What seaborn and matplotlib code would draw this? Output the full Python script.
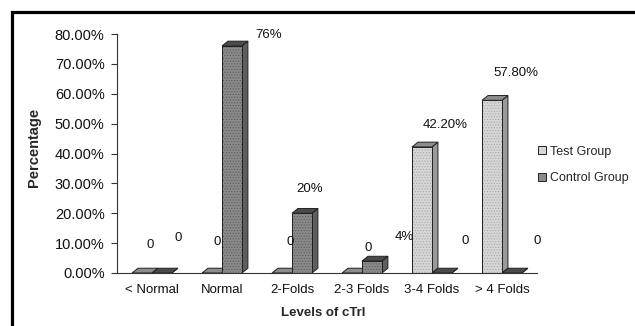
import numpy as np
import pandas as pd
import matplotlib
matplotlib.use("Agg")
import matplotlib.pyplot as plt
from matplotlib.patches import Polygon, Patch, Rectangle
import seaborn as sns

# ---- data ----
categories = ["< Normal", "Normal", "2-Folds", "2-3 Folds", "3-4 Folds", "> 4 Folds"]
test_values = [0, 0, 0, 0, 42.2, 57.8]
control_values = [0, 76, 20, 4, 0, 0]
test_labels = ["0", "0", "0", "0", "42.20%", "57.80%"]
control_labels = ["0", "76%", "20%", "4%", "0", "0"]
groups = ["Test Group", "Control Group"]
yticks = [0, 10, 20, 30, 40, 50, 60, 70, 80]

# ---- style ----
sns.set_style("white")
plt.rcParams["font.family"] = ["Liberation Sans", "DejaVu Sans"]
plt.rcParams["hatch.linewidth"] = 0.5

df = pd.DataFrame({
    "level": categories * 2,
    "pct": test_values + control_values,
    "group": [groups[0]] * len(categories) + [groups[1]] * len(categories),
})

fig = plt.figure(figsize=(6.35, 3.26), dpi=100)
ax = fig.add_axes([117 / 635, 1 - 273 / 326, 420 / 635, 239 / 326])

face = {groups[0]: "#d6d6d6", groups[1]: "#8a8a8a"}
sns.barplot(data=df, x="level", y="pct", hue="group", palette=face,
            width=0.57, gap=0, edgecolor="#222222", linewidth=0.7,
            legend=False, ax=ax, zorder=2)

hatches = {groups[0]: "......", groups[1]: "......"}
hatch_col = {groups[0]: "#a8a8a8", groups[1]: "#5a5a5a"}
side_col = {groups[0]: "#9a9a9a", groups[1]: "#5e5e5e"}
top_col = {groups[0]: "#8c8c8c", groups[1]: "#4a4a4a"}

dx, dy = 0.085, 1.6
bars = list(ax.patches)
n = len(categories)
for k, p in enumerate(bars):
    g = groups[0] if k < n else groups[1]
    x0, w, h = p.get_x(), p.get_width(), p.get_height()
    zo = 2 + (0 if k < n else 0.5)
    p.set_zorder(zo + 0.1)
    ax.add_patch(Rectangle((x0, 0), w, h, fill=False, hatch=hatches[g],
                           edgecolor=hatch_col[g], linewidth=0, zorder=zo + 0.15))
    side = Polygon([(x0 + w, 0), (x0 + w + dx, dy), (x0 + w + dx, h + dy), (x0 + w, h)],
                   closed=True, facecolor=side_col[g], edgecolor="#222222",
                   linewidth=0.7, zorder=zo)
    top = Polygon([(x0, h), (x0 + dx, h + dy), (x0 + w + dx, h + dy), (x0 + w, h)],
                  closed=True, facecolor=top_col[g], edgecolor="#222222",
                  linewidth=0.7, zorder=zo + 0.3)
    ax.add_patch(side)
    ax.add_patch(top)
    ax.add_patch(Rectangle((x0, 0), w, h, fill=False, edgecolor="#222222",
                           linewidth=0.7, zorder=zo + 0.2))

# value labels
test_lab_dx = [0.11, 0.07, 0.11, 0.23, 0.33, 0.34]
test_lab_dy = [9.4, 10.4, 10.4, 8.4, 7.3, 9.1]
ctrl_lab_dx = [0.23, 0.53, 0.11, 0.46, 0.33, 0.36]
ctrl_lab_dy = [11.7, 3.6, 8.1, 8.0, 10.7, 10.7]
for i in range(n):
    pt = bars[i]
    pc = bars[n + i]
    ax.text(pt.get_x() + pt.get_width() / 2 + test_lab_dx[i], pt.get_height() + test_lab_dy[i],
            test_labels[i], ha="center", va="center", fontsize=9.5, color="#111111")
    ax.text(pc.get_x() + pc.get_width() / 2 + ctrl_lab_dx[i], pc.get_height() + ctrl_lab_dy[i],
            control_labels[i], ha="center", va="center", fontsize=9.5, color="#111111")

ax.set_xlim(-0.5, n - 0.5)
ax.set_ylim(0, 80)
ax.set_yticks(yticks)
ax.set_yticklabels([f"{v:.2f}%" for v in yticks], fontsize=10.5, color="#111111")
ax.set_xticks(range(n))
ax.set_xticklabels(categories, fontsize=9.5, color="#111111")
ax.set_xticks(np.arange(-0.5, n, 1.0), minor=True)
ax.tick_params(axis="x", which="major", length=0, pad=8)
ax.tick_params(axis="x", which="minor", length=4, width=0.8, color="#333333", direction="out")
ax.tick_params(axis="y", length=4, width=0.8, color="#333333", direction="out", left=True, pad=5)
for s in ["top", "right"]:
    ax.spines[s].set_visible(False)
for s in ["left", "bottom"]:
    ax.spines[s].set_color("#333333")
    ax.spines[s].set_linewidth(0.8)

ax.set_xlabel("Levels of cTrl", fontsize=9.5, fontweight="bold")
ax.set_ylabel("Percentage", fontsize=10.5, fontweight="bold")
ax.xaxis.set_label_coords(0.49, -0.167)
ax.yaxis.set_label_coords(-0.197, 0.527)
ax.xaxis.label.set_va("center")
ax.yaxis.label.set_va("center")

handles = [Patch(facecolor=face[g], edgecolor="#222222", linewidth=0.7) for g in groups]
fig.legend(handles, groups, loc="center left", bbox_to_anchor=(527 / 635, 1 - 165 / 326),
           frameon=False, fontsize=9, handlelength=0.6, handleheight=0.6,
           handletextpad=0.3, labelspacing=1.2)

# outer border
fig.add_artist(Rectangle((12 / 635, -0.2), 1.2, 1.2 - 12 / 326, transform=fig.transFigure,
                         fill=False, edgecolor="black", linewidth=2.3, clip_on=False))

fig.savefig("out.png", dpi=100)
